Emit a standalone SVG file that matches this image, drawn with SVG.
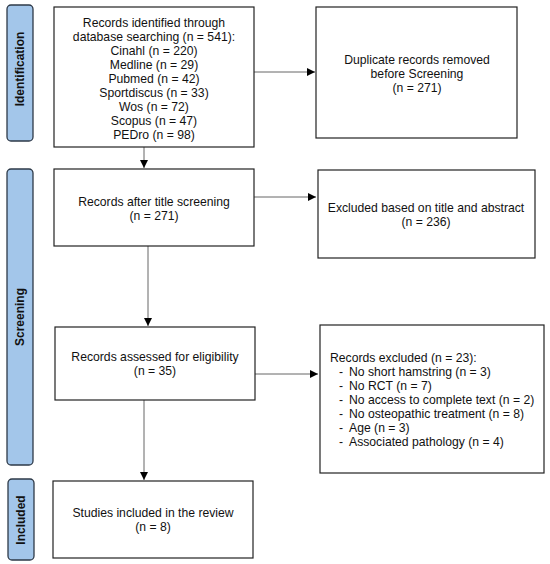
<svg xmlns="http://www.w3.org/2000/svg" width="550" height="564" viewBox="0 0 550 564">
<style>
.band{fill:#a3c6ea;stroke:#2e3a48;stroke-width:1.3}
.box{fill:#ffffff;stroke:#222222;stroke-width:1.2}
.t{font-family:"Liberation Sans",Arial,sans-serif;font-size:12.2px;fill:#111111}
.c{text-anchor:middle}
.bl{font-family:"Liberation Sans",Arial,sans-serif;font-size:12px;font-weight:bold;fill:#111111;text-anchor:middle}
.ln{stroke:#666666;stroke-width:1;fill:none}
</style>
<defs>
<marker id="ah" viewBox="0 0 10 10" refX="10" refY="5" markerWidth="8" markerHeight="8" markerUnits="userSpaceOnUse" orient="auto">
<path d="M0,0 L10,5 L0,10 z" fill="#000000"/>
</marker>
</defs>
<rect width="550" height="564" fill="#ffffff"/>
<g id="band-identification">
<rect class="band" x="7" y="5" width="26" height="136" rx="4"/>
<text class="bl" transform="translate(24,69) rotate(-90)">Identification</text>
</g>
<g id="band-screening">
<rect class="band" x="7" y="169" width="26" height="296" rx="4"/>
<text class="bl" transform="translate(24,317) rotate(-90)">Screening</text>
</g>
<g id="band-included">
<rect class="band" x="8" y="479" width="26" height="81" rx="4"/>
<text class="bl" transform="translate(25,520) rotate(-90)">Included</text>
</g>
<g id="connectors">
<line class="ln" x1="254" y1="72" x2="315" y2="72" marker-end="url(#ah)"/>
<line class="ln" x1="144" y1="147" x2="144" y2="168" marker-end="url(#ah)"/>
<line class="ln" x1="254" y1="197" x2="316" y2="197" marker-end="url(#ah)"/>
<line class="ln" x1="148" y1="246" x2="148" y2="326" marker-end="url(#ah)"/>
<line class="ln" x1="255" y1="374" x2="318" y2="374" marker-end="url(#ah)"/>
<line class="ln" x1="144" y1="400" x2="144" y2="480" marker-end="url(#ah)"/>
</g>
<g id="node-identified">
<rect class="box" x="54" y="7" width="200" height="140"/>
<text class="t c" x="154" y="27">Records identified through</text>
<text class="t c" x="154" y="41">database searching (n = 541):</text>
<text class="t c" x="154" y="55">Cinahl (n = 220)</text>
<text class="t c" x="154" y="69">Medline (n = 29)</text>
<text class="t c" x="154" y="83">Pubmed (n = 42)</text>
<text class="t c" x="154" y="97">Sportdiscus (n = 33)</text>
<text class="t c" x="154" y="111">Wos (n = 72)</text>
<text class="t c" x="154" y="125">Scopus (n = 47)</text>
<text class="t c" x="154" y="139">PEDro (n = 98)</text>
</g>
<g id="node-duplicates">
<rect class="box" x="316" y="7" width="201" height="131"/>
<text class="t c" x="417" y="64">Duplicate records removed</text>
<text class="t c" x="417" y="78">before Screening</text>
<text class="t c" x="417" y="92">(n = 271)</text>
</g>
<g id="node-title-screening">
<rect class="box" x="54" y="169" width="200" height="77"/>
<text class="t c" x="154" y="206">Records after title screening</text>
<text class="t c" x="154" y="220">(n = 271)</text>
</g>
<g id="node-excluded-title">
<rect class="box" x="318" y="170" width="217" height="88"/>
<text class="t c" x="426" y="212">Excluded based on title and abstract</text>
<text class="t c" x="426" y="226">(n = 236)</text>
</g>
<g id="node-eligibility">
<rect class="box" x="55" y="327" width="200" height="73"/>
<text class="t c" x="155" y="361">Records assessed for eligibility</text>
<text class="t c" x="155" y="375">(n = 35)</text>
</g>
<g id="node-excluded-records">
<rect class="box" x="320" y="325" width="224" height="148"/>
<text class="t" x="330" y="362">Records excluded (n = 23):</text>
<text class="t" x="339" y="376">-</text><text class="t" x="349" y="376">No short hamstring (n = 3)</text>
<text class="t" x="339" y="390">-</text><text class="t" x="349" y="390">No RCT (n = 7)</text>
<text class="t" x="339" y="404">-</text><text class="t" x="349" y="404">No access to complete text (n = 2)</text>
<text class="t" x="339" y="418">-</text><text class="t" x="349" y="418">No osteopathic treatment (n = 8)</text>
<text class="t" x="339" y="432">-</text><text class="t" x="349" y="432">Age (n = 3)</text>
<text class="t" x="339" y="446">-</text><text class="t" x="349" y="446">Associated pathology (n = 4)</text>
</g>
<g id="node-included">
<rect class="box" x="53" y="481" width="200" height="77"/>
<text class="t c" x="153" y="517">Studies included in the review</text>
<text class="t c" x="153" y="531">(n = 8)</text>
</g>
</svg>
